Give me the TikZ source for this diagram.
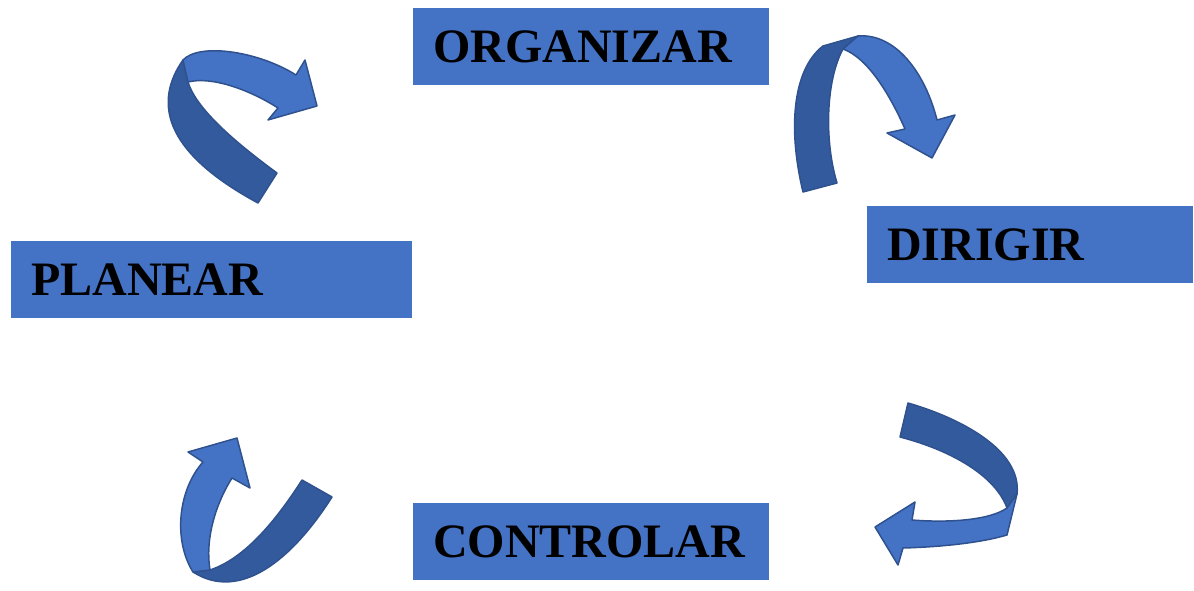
\documentclass[tikz,border=0pt]{standalone}
\usepackage{fontspec}
\setmainfont{Liberation Serif}
\definecolor{boxblue}{HTML}{4472C4}
\definecolor{darkblue}{HTML}{335A9C}
\definecolor{edgeblue}{HTML}{2F528F}
\begin{document}
\begin{tikzpicture}[x=1pt,y=-1pt,
  stepbox/.style={fill=boxblue,draw=none,anchor=north west,inner xsep=20pt,align=left,
    font=\fontsize{48}{48}\selectfont\bfseries,text=black},
  front/.style={fill=boxblue,draw=edgeblue,line width=1.5pt,line join=round},
  back/.style={fill=darkblue,draw=edgeblue,line width=1.5pt,line join=round}]
\useasboundingbox (0,0) rectangle (1194,591);
\node[stepbox,minimum width=356pt,minimum height=77pt,text width=316pt] (org) at (413,8) {ORGANIZAR};
\node[stepbox,minimum width=326pt,minimum height=77pt,text width=286pt] (dir) at (867,206) {DIRIGIR};
\node[stepbox,minimum width=401pt,minimum height=77pt,text width=361pt] (pla) at (11,241) {PLANEAR};
\node[stepbox,minimum width=356pt,minimum height=77pt,text width=316pt] (con) at (413,503) {CONTROLAR};
% arrow 1 (top-left)
\draw[back] (183,60) .. controls (155,100) and (160,150) .. (258,203) -- (277,173)
  .. controls (225,135) and (195,105) .. (188,82) -- cycle;
\draw[front] (183,60) .. controls (200,42) and (260,52) .. (296,75) -- (305,60) -- (317,106)
  -- (268,120) -- (278,108) .. controls (250,90) and (212,76) .. (188,82) -- cycle;
% arrow 2 (top-right)
\draw[back] (803,192) .. controls (788,130) and (792,70) .. (823,46) -- (858,36) -- (843,49)
  .. controls (826,80) and (824,140) .. (837,183) -- cycle;
\draw[front] (858,36) .. controls (895,33) and (925,72) .. (937,120) -- (955,115) -- (932,158)
  -- (887,133) -- (905,129) .. controls (890,95) and (868,58) .. (843,49) -- cycle;
% arrow 3 (bottom-right)
\draw[back] (908,403) .. controls (960,418) and (1022,450) .. (1017,494) -- (1007,508)
  .. controls (995,475) and (950,450) .. (900,437) -- cycle;
\draw[front] (1017,494) -- (1007,535) .. controls (980,543) and (940,547) .. (903,548)
  -- (898,565) -- (875,527) -- (915,502) -- (912,520) .. controls (950,523) and (990,520) .. (1007,508) -- cycle;
% arrow 4 (bottom-left)
\draw[back] (193,572) .. controls (240,602) and (292,560) .. (332,497) -- (302,480)
  .. controls (270,530) and (240,560) .. (210,570) -- cycle;
\draw[front] (193,572) .. controls (173,540) and (178,490) .. (203,462) -- (188,452) -- (237,438)
  -- (250,488) -- (232,478) .. controls (215,505) and (205,540) .. (210,570) -- cycle;
\end{tikzpicture}
\end{document}
